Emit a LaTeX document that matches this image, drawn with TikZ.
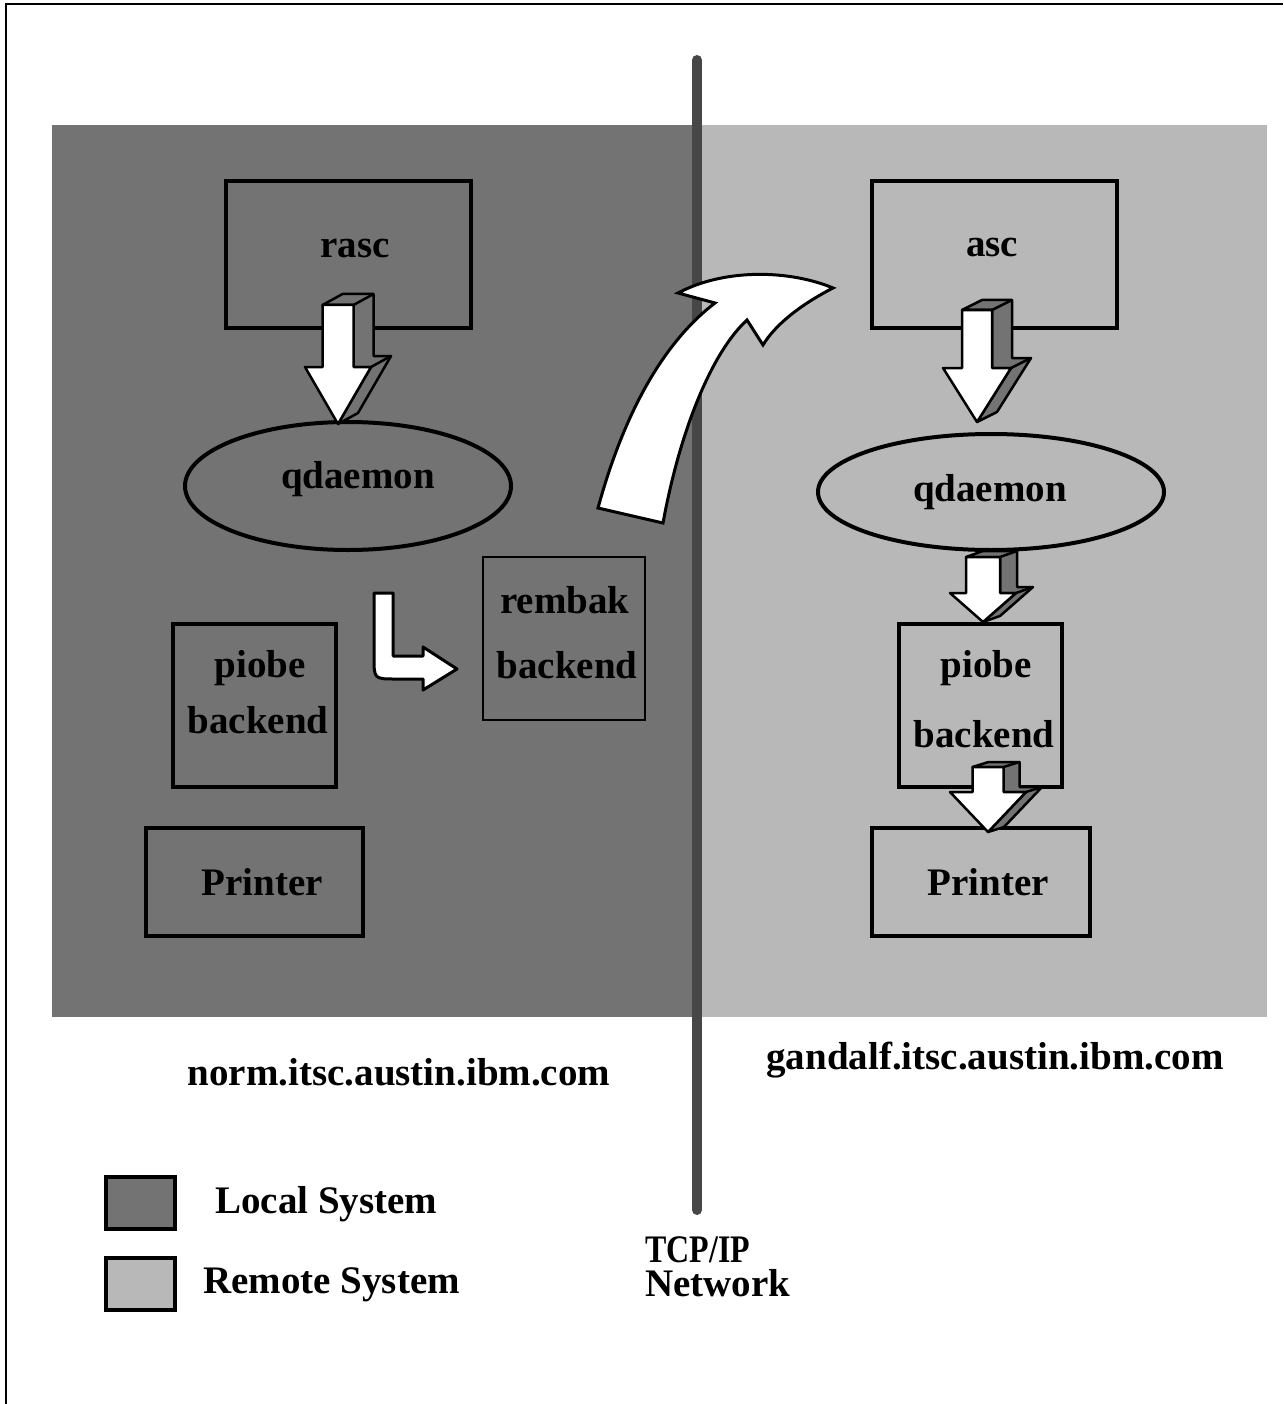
\documentclass[tikz,border=0pt]{standalone}
\usepackage{fontspec}
\setmainfont{Liberation Serif}
\usetikzlibrary{shapes.geometric}
\definecolor{localfill}{gray}{0.45}
\definecolor{remotefill}{gray}{0.72}
\definecolor{netline}{gray}{0.28}
\newcommand{\tdarrow}[9]{% #1 xc #2 sw #3 hw #4 yt #5 yh #6 ytip #7 dx #8 dy(up) #9 colour
  \fill[#9, draw=black, line width=2.5pt, line join=round]
    (#1-#2,#4) -- (#1-#2+#7,#4-#8) -- (#1+#2+#7,#4-#8) -- (#1+#2+#7,#5-#8)
    -- (#1+#3+#7,#5-#8) -- (#1+#7,#6-#8) -- (#1,#6) -- (#1+#3,#5) -- (#1+#2,#5)
    -- (#1+#2,#4) -- cycle;
  \draw[line width=2.5pt] (#1+#2,#4) -- (#1+#2+#7,#4-#8) (#1+#3,#5) -- (#1+#3+#7,#5-#8);
  \fill[white, draw=black, line width=2.5pt, line join=round]
    (#1-#2,#4) -- (#1+#2,#4) -- (#1+#2,#5) -- (#1+#3,#5) -- (#1,#6)
    -- (#1-#3,#5) -- (#1-#2,#5) -- cycle;
}
\tikzset{
  lbl/.style={font=\bfseries\fontsize{39}{44}\selectfont, inner sep=0pt},
  boxnode/.style={draw, line width=4pt, inner sep=0pt},
  ellnode/.style={draw, ellipse, line width=4pt, inner sep=0pt},
  region/.style={inner sep=0pt, draw=none},
  legbox/.style={draw, line width=4pt, inner sep=0pt, minimum width=69pt, minimum height=52pt}
}
\begin{document}
\begin{tikzpicture}[x=1pt,y=-1pt]
\useasboundingbox (0,0) rectangle (1283,1404);
\fill[white] (0,0) rectangle (1283,1404);
% outer frame
\coordinate (fbl) at (6,1404);
\coordinate (ftl) at (6,4);
\coordinate (ftr) at (1283,4);
\draw[line width=2pt] (fbl) -- (ftl) -- (ftr);
% regions
\node[region, fill=localfill, minimum width=648pt, minimum height=892pt] (localreg) at (376,571) {};
\node[region, fill=remotefill, minimum width=565pt, minimum height=892pt] (remotereg) at (984.5,571) {};
% network line
\coordinate (nettop) at (697,60);
\coordinate (netbot) at (697,1210);
\draw[netline, line width=10pt, line cap=round] (nettop) -- (netbot);
% left side shapes
\node[boxnode, minimum width=245pt, minimum height=147pt] (rasc) at (348.5,254.5) {};
\node[ellnode, minimum width=326pt, minimum height=128pt] (lqd) at (348,486) {};
\node[boxnode, line width=2.5pt, minimum width=162pt, minimum height=163pt] (rembak) at (564,638.5) {};
\node[boxnode, minimum width=163pt, minimum height=163pt] (lpiobe) at (254.5,705.5) {};
\node[boxnode, minimum width=217pt, minimum height=108pt] (lprinter) at (254.5,882) {};
% right side shapes
\node[boxnode, minimum width=245pt, minimum height=147pt] (asc) at (994.5,254.5) {};
\node[ellnode, minimum width=346pt, minimum height=116pt] (rqd) at (991,492) {};
\node[boxnode, minimum width=163pt, minimum height=163pt] (rpiobe) at (980.5,705.5) {};
\node[boxnode, minimum width=218pt, minimum height=108pt] (rprinter) at (981,882) {};
% texts in shapes
\node[lbl] (rasctxt) at (355,248) {rasc};
\node[lbl] (lqdtxt) at (358,479) {qdaemon};
\node[lbl] (rembaktxt1) at (565,600) {rembak};
\node[lbl] (rembaktxt2) at (567,665) {backend};
\node[lbl] (lpiobetxt1) at (260,668) {piobe};
\node[lbl] (lpiobetxt2) at (258,720) {backend};
\node[lbl] (lprintertxt) at (262,882) {Printer};
\node[lbl] (asctxt) at (992,248) {asc};
\node[lbl] (rqdtxt) at (990,492) {qdaemon};
\node[lbl] (rpiobetxt1) at (986,668) {piobe};
\node[lbl] (rpiobetxt2) at (984,734) {backend};
\node[lbl] (rprintertxt) at (988,882) {Printer};
% block arrows
\tdarrow{338}{15.5}{33}{305}{367}{424}{20}{11}{localfill}
\tdarrow{977}{15}{34}{310}{368}{422}{20}{10}{localfill}
\tdarrow{983}{17}{33}{557}{593}{622}{17}{6}{localfill}
\tdarrow{988}{15.5}{38}{767}{792}{832}{16}{5}{localfill}
% bent arrow qdaemon -> rembak
\fill[white, draw=black, line width=3pt, line join=round]
  (374,593) -- (393,593) -- (393,656) -- (423,656) -- (423,647) -- (457,669)
  -- (423,690) -- (423,679) -- (396,679) .. controls (374,679) .. (374,657) -- cycle;
% curved network arrow
\fill[white, draw=black, line width=3pt, line join=miter]
  (598,508) .. controls (622,420) and (660,345) .. (715,303) -- (678,293)
  .. controls (725,268) and (790,270) .. (833,288)
  .. controls (800,305) and (775,325) .. (763,345) -- (747,320)
  .. controls (712,352) and (680,430) .. (663,523) -- cycle;
% host labels
\node[lbl] (lhost) at (399,1072) {norm.itsc.austin.ibm.com};
\node[lbl] (rhost) at (995,1060) {gandalf.itsc.austin.ibm.com};
% network label
\node[lbl, anchor=base west, text depth=0pt] (netlbl1) at (645,1262) {\scalebox{0.82}[1]{TCP/IP}};
\node[lbl, anchor=base west] (netlbl2) at (645,1296) {Network};
% legend
\node[legbox, fill=localfill] (leglocal) at (140.5,1203) {};
\node[legbox, fill=remotefill] (legremote) at (140.5,1284) {};
\node[lbl, anchor=west] (leglocaltxt) at (215,1204) {Local System};
\node[lbl, anchor=west] (legremotetxt) at (203,1285) {Remote System};
\end{tikzpicture}
\end{document}
